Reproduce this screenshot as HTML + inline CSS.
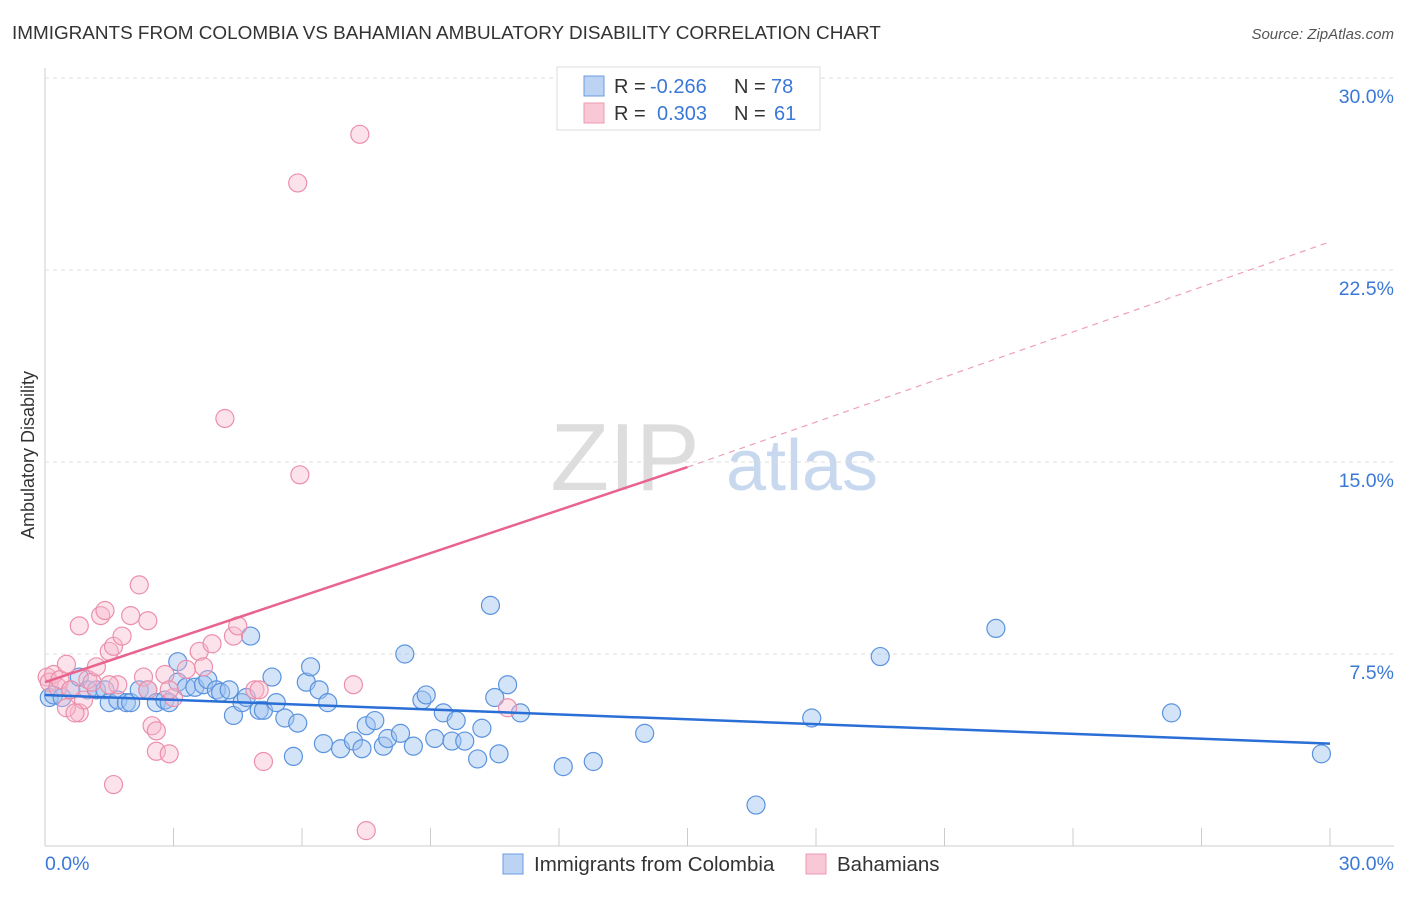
<!DOCTYPE html>
<html><head><meta charset="utf-8"><style>
body{margin:0;background:#fff;font-family:"Liberation Sans",sans-serif;}
svg text{font-family:"Liberation Sans",sans-serif;white-space:pre;}
</style></head><body>
<svg id="c" width="1406" height="892">
<text x="12" y="39" font-size="18.9" fill="#333">IMMIGRANTS FROM COLOMBIA VS BAHAMIAN AMBULATORY DISABILITY CORRELATION CHART</text>
<text x="1394" y="39" font-size="15" fill="#555" font-style="italic" text-anchor="end">Source: ZipAtlas.com</text>
<text x="625" y="490" font-size="96" fill="#ddd" font-family="Liberation Serif" text-anchor="middle">ZIP</text>
<text x="802" y="490" font-size="72" fill="#c8d8ef" text-anchor="middle">atlas</text>
<g id="grid"></g><g id="pts"></g><g id="lines"></g>
<text transform="translate(34,455) rotate(-90)" font-size="18" fill="#333" text-anchor="middle">Ambulatory Disability</text>
<text x="45" y="870" font-size="19.5" fill="#3a78d8">0.0%</text>
<text x="1394" y="870" font-size="19.5" fill="#3a78d8" text-anchor="end">30.0%</text>
<g>
<rect x="557" y="67" width="263" height="63" fill="#fff" stroke="#ddd"/>
<rect x="584" y="76" width="20" height="20" fill="#bcd3f3" stroke="#6b9be0"/>
<rect x="584" y="103" width="20" height="20" fill="#f9c8d6" stroke="#ee9ab2"/>
<text x="614" y="93" font-size="20" fill="#333">R =</text>
<text x="650" y="93" font-size="20" fill="#3a78d8">-0.266</text>
<text x="734" y="93" font-size="20" fill="#333">N =</text>
<text x="771" y="93" font-size="20" fill="#3a78d8">78</text>
<text x="614" y="120" font-size="20" fill="#333">R =</text>
<text x="657" y="120" font-size="20" fill="#3a78d8">0.303</text>
<text x="734" y="120" font-size="20" fill="#333">N =</text>
<text x="774" y="120" font-size="20" fill="#3a78d8">61</text>
</g>
<g>
<rect x="503" y="854" width="20" height="20" fill="#bcd3f3" stroke="#6b9be0"/>
<text x="534" y="871" font-size="20.5" fill="#333">Immigrants from Colombia</text>
<rect x="806" y="854" width="20" height="20" fill="#f9c8d6" stroke="#ee9ab2"/>
<text x="837" y="871" font-size="20.5" fill="#333">Bahamians</text>
</g>
</svg>
<script>
const yTicks=[7.5,15,22.5,30];
const xTicks=[3,6,9,12,15,18,21,24,27,30];
const blueX=[0.1,0.2,0.4,0.6,0.8,1,1.2,1.4,1.5,1.7,1.9,2,2.2,2.4,2.6,2.8,2.9,3.1,3.1,3.3,3.5,3.7,3.8,4,4.1,4.3,4.4,4.6,4.7,4.8,5,5.1,5.3,5.4,5.6,5.8,5.9,6.1,6.2,6.4,6.5,6.6,6.9,7.2,7.4,7.5,7.7,7.9,8,8.3,8.4,8.6,8.8,8.9,9.1,9.3,9.5,9.6,9.8,10.1,10.2,10.4,10.5,10.6,10.8,11.1,12.1,12.8,14,16.6,17.9,19.5,22.2,26.3,29.8];
const blueY=[5.8,5.9,5.8,6.1,6.6,6.1,6.1,6.1,5.6,5.7,5.6,5.6,6.1,6.1,5.6,5.7,5.6,7.2,6.4,6.2,6.2,6.3,6.5,6.1,6,6.1,5.1,5.6,5.8,8.2,5.3,5.3,6.6,5.6,5,3.5,4.8,6.4,7,6.1,4,5.6,3.8,4.1,3.8,4.7,4.9,3.9,4.2,4.4,7.5,3.9,5.7,5.9,4.2,5.2,4.1,4.9,4.1,3.4,4.6,9.4,5.8,3.6,6.3,5.2,3.1,3.3,4.4,1.6,5,7.4,8.5,5.2,3.6];
const pinkX=[0.05,0.1,0.2,0.3,0.35,0.5,0.6,0.8,0.8,0.9,1,1.1,1.2,1.3,1.4,1.5,1.6,1.6,1.7,1.8,2,2.2,2.3,2.4,2.4,2.5,2.6,2.6,2.8,2.9,3,3.3,3.6,3.7,3.9,4.2,4.4,4.5,4.9,5,5.1,5.9,5.95,7.2,7.35,7.5,10.8,0.5,0.7,1.5,2.9];
const pinkY=[6.6,6.4,6.7,6.2,6.5,7.1,6.1,8.6,5.2,5.7,6.5,6.4,7,9,9.2,7.6,7.8,2.4,6.3,8.2,9,10.2,6.6,6.1,8.8,4.7,3.7,4.5,6.7,3.6,5.8,6.9,7.6,7,7.9,16.7,8.2,8.6,6.1,6.1,3.3,25.9,14.5,6.3,27.8,0.6,5.4,5.4,5.2,6.3,6.1];
const blueTrend=[[0,5.9],[30,4.0]];
const pinkTrend=[[0,6.4],[15,14.8],[30,23.6]];
const X=v=>45+v/30*1285, Y=v=>846-v/7.5*192;
const NS='http://www.w3.org/2000/svg';
function mk(t,a,p){const e=document.createElementNS(NS,t);for(const k in a)e.setAttribute(k,a[k]);p.appendChild(e);return e;}
const grid=document.getElementById('grid'),pts=document.getElementById('pts'),lines=document.getElementById('lines');
mk('line',{x1:45,y1:68,x2:45,y2:846,stroke:'#ccc'},grid);
mk('line',{x1:45,y1:846,x2:1394,y2:846,stroke:'#ccc'},grid);
yTicks.forEach(t=>{
 const g=mk('line',{x1:45,y1:Y(t),x2:1394,y2:Y(t),stroke:'#ddd','stroke-dasharray':'4,4'},grid);
 
 
 const l=mk('text',{x:1394,y:Y(t)+25,'font-size':19.5,fill:'#3a78d8','text-anchor':'end'},grid);
 l.textContent=t.toFixed(1)+'%';
 
 
});
xTicks.forEach(t=>{
 const k=mk('line',{x1:X(t),y1:828,x2:X(t),y2:846,stroke:'#ccc'},grid);
 
 
});
blueX.forEach((v,i)=>{
 const c=mk('circle',{cx:X(v),cy:Y(blueY[i]),r:9,fill:'rgba(160,195,240,0.45)',stroke:'#5b93de','stroke-width':1.2},pts);
 
 
});
pinkX.forEach((v,i)=>{
 const c=mk('circle',{cx:X(v),cy:Y(pinkY[i]),r:9,fill:'rgba(248,185,205,0.4)',stroke:'#ec8fab','stroke-width':1.2},pts);
 
 
});
const bl=mk('line',{x1:X(blueTrend[0][0]),y1:Y(blueTrend[0][1]),x2:X(blueTrend[1][0]),y2:Y(blueTrend[1][1]),stroke:'#2a6fd6','stroke-width':2.5},lines);


const pl=mk('line',{x1:X(pinkTrend[0][0]),y1:Y(pinkTrend[0][1]),x2:X(pinkTrend[1][0]),y2:Y(pinkTrend[1][1]),stroke:'#e8648e','stroke-width':2.5},lines);


const pd=mk('line',{x1:X(pinkTrend[1][0]),y1:Y(pinkTrend[1][1]),x2:X(pinkTrend[2][0]),y2:Y(pinkTrend[2][1]),stroke:'#eea0b8','stroke-width':1.2,'stroke-dasharray':'6,5'},lines);


</script>
</body></html>
